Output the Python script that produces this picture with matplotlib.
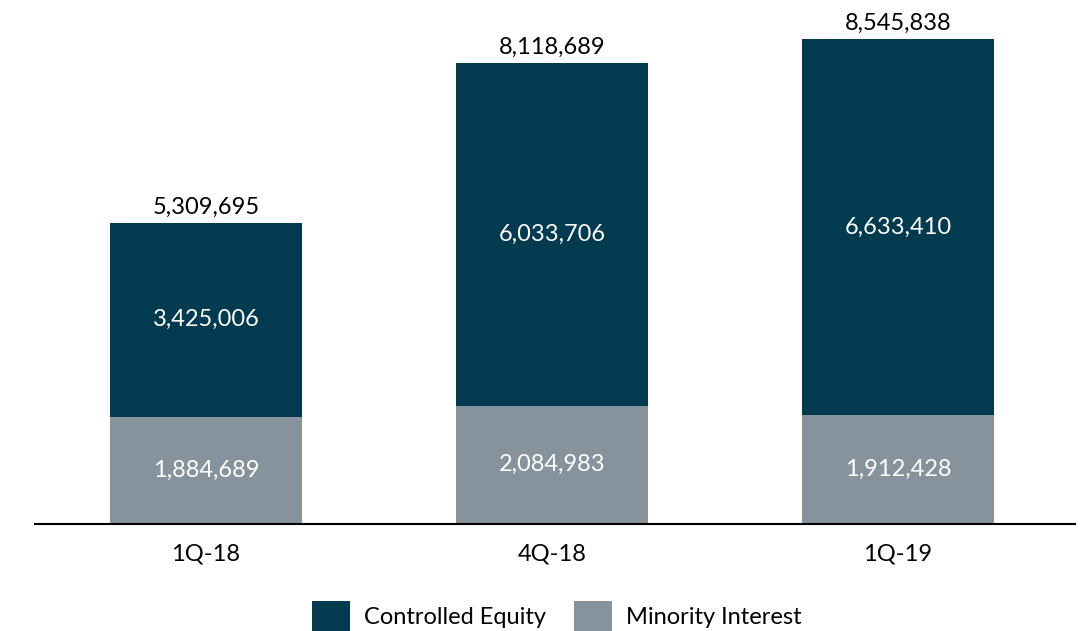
import numpy as np
import matplotlib.pyplot as plt

plt.rcParams['font.family'] = ['Lato', 'DejaVu Sans']

quarters = ['1Q-18', '4Q-18', '1Q-19']
minority = [1884689, 2084983, 1912428]
controlled = [3425006, 6033706, 6633410]
totals = [5309695, 8118689, 8545838]

dark = '#023a50'
grey = '#87939c'

fig = plt.figure(figsize=(10.81, 6.31), dpi=100)
ax = fig.add_axes([0.0324, 0.1696, 0.962, 0.8304])

x = np.arange(len(quarters))
w = 0.555
b1 = ax.bar(x, minority, w, color=grey, label='Minority Interest')
b2 = ax.bar(x, controlled, w, bottom=minority, color=dark, label='Controlled Equity')

for i in range(len(quarters)):
    ax.text(x[i], minority[i] / 2, f'{minority[i]:,}', ha='center', va='center',
            color='white', fontsize=17)
    ax.text(x[i], minority[i] + controlled[i] / 2, f'{controlled[i]:,}', ha='center',
            va='center', color='white', fontsize=17)
    ax.text(x[i], totals[i] + 90000, f'{totals[i]:,}', ha='center', va='bottom',
            color='black', fontsize=17)

ax.set_xlim(-0.494, 2.512)
ax.set_ylim(0, 9230000)
ax.set_xticks(x)
ax.set_xticklabels(quarters, fontsize=17)
ax.tick_params(axis='x', length=0, pad=14)
ax.set_yticks([])
for s in ['top', 'right', 'left']:
    ax.spines[s].set_visible(False)
ax.spines['bottom'].set_linewidth(1.5)

fig.legend(handles=[b2, b1], labels=['Controlled Equity', 'Minority Interest'],
           loc='center', bbox_to_anchor=(0.515, 0.024), ncol=2, frameon=False,
           fontsize=17, handlelength=1.6, handleheight=1.6, columnspacing=1.2,
           handletextpad=0.6)

fig.savefig('out.png', dpi=100)
